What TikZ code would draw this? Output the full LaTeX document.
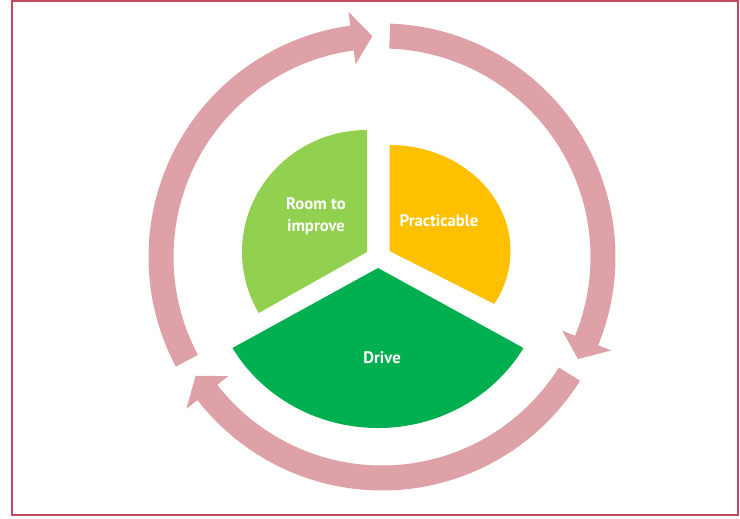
\documentclass[tikz,border=0pt]{standalone}
\usepackage{fontspec}
\setmainfont{PT Sans}
\usetikzlibrary{positioning}
\definecolor{ringpink}{RGB}{221,161,167}
\definecolor{framered}{RGB}{196,72,96}
\definecolor{lightgreen}{RGB}{146,208,80}
\definecolor{amber}{RGB}{255,192,0}
\definecolor{darkgreen}{RGB}{0,176,80}
\tikzset{labeltext/.style={text=white, font=\fontsize{9.5}{12.5}\selectfont\bfseries, align=center}}

\begin{document}
\begin{tikzpicture}[x=0.02cm, y=0.02cm]
\useasboundingbox (0,0) rectangle (740,519);
\draw[framered, line width=1.1pt] (12,4) rectangle (738,518);

% cycle arrows round the pie
\begin{scope}[shift={(382,262)}]
\foreach \a in {208,88,-32}{
  \pgfmathsetmacro{\t}{\a-115.5}
  \pgfmathsetmacro{\b}{\t+5.3}
  \fill[ringpink] (\a:233.5) arc[start angle=\a, end angle=\b, radius=233.5] -- (\b:247.5) -- (\t:221) -- (\b:194.5) -- (\b:208.5) arc[start angle=\b, end angle=\a, radius=208.5] -- cycle;
}
\end{scope}

% pie slices
\fill[lightgreen] (367,267) -- ++(0,122) arc[start angle=90, end angle=210, x radius=125, y radius=122] -- cycle;
\fill[amber] (389.5,268) -- ++(0,106) arc[start angle=90, end angle=-30, x radius=121, y radius=106] -- cycle;
\fill[darkgreen] (378,251) -- ++(-145.5,-80) arc[start angle=210, end angle=330, x radius=168, y radius=160] -- cycle;

\node[labeltext] (room) at (316,303) {Room to\\improve};
\node[labeltext] (practic) at (439,298) {Practicable};
\node[labeltext] (drive) at (382,161) {Drive};
\end{tikzpicture}
\end{document}
